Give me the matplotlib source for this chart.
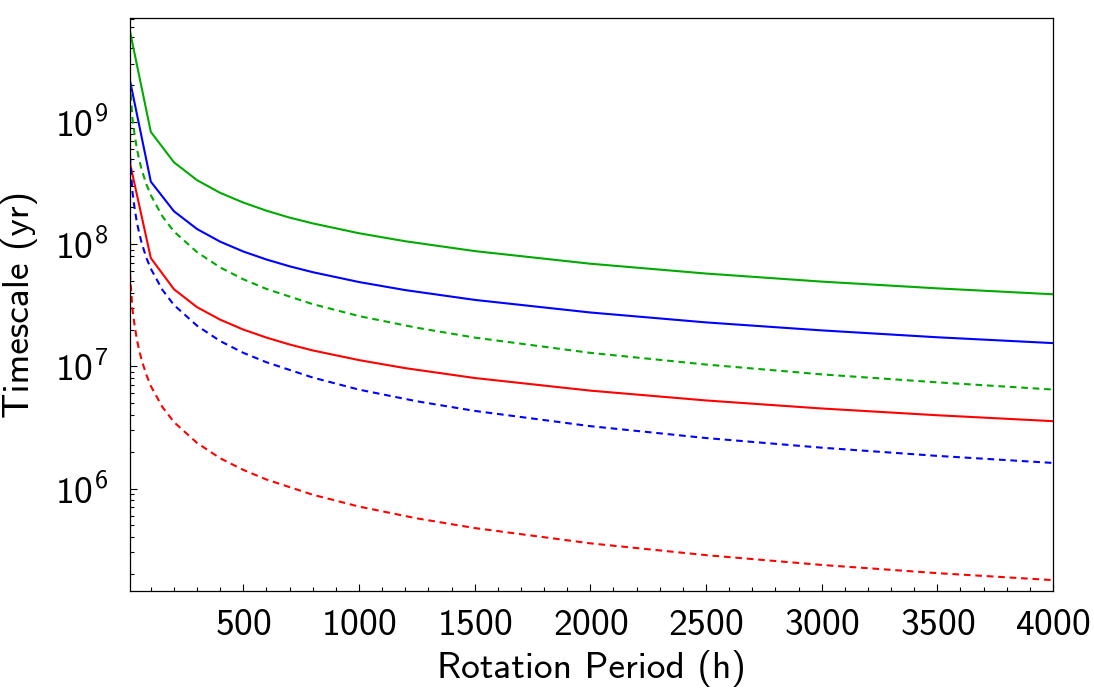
import matplotlib
matplotlib.use("Agg")
import matplotlib.pyplot as plt
from matplotlib.ticker import LogLocator, MultipleLocator, NullFormatter, FixedLocator

plt.rcParams['font.family'] = ['cmss10', 'DejaVu Sans']
plt.rcParams['mathtext.fontset'] = 'custom'
plt.rcParams['mathtext.rm'] = 'cmss10'
plt.rcParams['mathtext.it'] = 'cmss10'
plt.rcParams['axes.formatter.use_mathtext'] = True

# Solid curves (coarse sampling)
period_solid = [10, 100, 200, 300, 400, 500, 600, 700, 800, 1000, 1200, 1500,
                2000, 2500, 3000, 3500, 4000]
green_solid = [5.5e9, 8.3e8, 4.68e8, 3.34e8, 2.63e8, 2.19e8, 1.88e8, 1.65e8, 1.48e8,
               1.229e8, 1.057e8, 8.78e7, 6.92e7, 5.75e7, 4.94e7, 4.35e7, 3.89e7]
blue_solid = [2.18e9, 3.25e8, 1.86e8, 1.33e8, 1.048e8, 8.71e7, 7.49e7, 6.59e7, 5.90e7,
              4.90e7, 4.21e7, 3.50e7, 2.76e7, 2.29e7, 1.97e7, 1.73e7, 1.55e7]
red_solid = [4.6e8, 7.7e7, 4.28e7, 3.05e7, 2.41e7, 2.0e7, 1.72e7, 1.51e7, 1.35e7,
             1.125e7, 9.67e6, 8.03e6, 6.33e6, 5.26e6, 4.52e6, 3.98e6, 3.56e6]

# Dashed curves (fine sampling)
period_dash = [10, 15, 20, 30, 40, 50, 60, 80, 100, 150, 200, 300, 400, 500, 600,
               800, 1000, 1250, 1500, 2000, 2500, 3000, 3500, 4000]
green_dash = [2.1e9, 1.52e9, 1.09e9, 7.85e8, 6.0e8, 4.9e8, 4.1e8, 3.12e8, 2.52e8,
              1.69e8, 1.27e8, 8.6e7, 6.45e7, 5.16e7, 4.3e7, 3.23e7, 2.58e7, 2.07e7,
              1.72e7, 1.29e7, 1.035e7, 8.6e6, 7.4e6, 6.46e6]
blue_dash = [5.2e8, 3.8e8, 2.73e8, 1.96e8, 1.5e8, 1.23e8, 1.03e8, 7.8e7, 6.3e7,
             4.23e7, 3.18e7, 2.15e7, 1.61e7, 1.29e7, 1.08e7, 8.1e6, 6.45e6, 5.18e6,
             4.32e6, 3.24e6, 2.59e6, 2.16e6, 1.85e6, 1.62e6]
red_dash = [5.8e7, 4.2e7, 3.0e7, 2.15e7, 1.65e7, 1.35e7, 1.13e7, 8.6e6, 6.9e6,
            4.65e6, 3.5e6, 2.36e6, 1.77e6, 1.42e6, 1.185e6, 8.9e5, 7.12e5, 5.7e5,
            4.75e5, 3.56e5, 2.85e5, 2.37e5, 2.03e5, 1.78e5]

x_ticks = [500, 1000, 1500, 2000, 2500, 3000, 3500, 4000]

GREEN = '#00aa00'
BLUE = '#0000ff'
RED = '#ff0000'

fig = plt.figure(figsize=(10.94, 6.94), dpi=100)
ax = fig.add_axes([130 / 1094, 1 - 591 / 694, (1053 - 130) / 1094, (591 - 18) / 694])

lw = 1.5
dash = (3.2, 2.3)
ax.plot(period_solid, green_solid, color=GREEN, lw=lw)
ax.plot(period_solid, blue_solid, color=BLUE, lw=lw)
ax.plot(period_solid, red_solid, color=RED, lw=lw)
ax.plot(period_dash, green_dash, color=GREEN, lw=lw, dashes=dash)
ax.plot(period_dash, blue_dash, color=BLUE, lw=lw, dashes=dash)
ax.plot(period_dash, red_dash, color=RED, lw=lw, dashes=dash)

ax.set_yscale('log')
ax.set_xlim(10, 4000)
ax.set_ylim(1.45e5, 7.1e9)

ax.xaxis.set_major_locator(FixedLocator(x_ticks))
ax.xaxis.set_minor_locator(MultipleLocator(100))
ax.yaxis.set_major_locator(LogLocator(base=10, numticks=20))
ax.yaxis.set_minor_locator(LogLocator(base=10, subs=[2, 3, 4, 5, 6, 7, 8, 9], numticks=20))
ax.yaxis.set_minor_formatter(NullFormatter())

ax.tick_params(which='both', direction='in', top=False, right=False, labelsize=27,
               width=0.8, colors='black')
ax.tick_params(which='major', length=5)
ax.tick_params(axis='x', which='major', pad=13)
ax.tick_params(axis='y', which='major', pad=16)
ax.tick_params(which='minor', length=3)
for s in ax.spines.values():
    s.set_linewidth(0.9)

ax.set_xlabel('Rotation Period (h)', fontsize=27, labelpad=6)
ax.set_ylabel('Timescale (yr)', fontsize=27, labelpad=12)

fig.savefig('out.png', dpi=100)
